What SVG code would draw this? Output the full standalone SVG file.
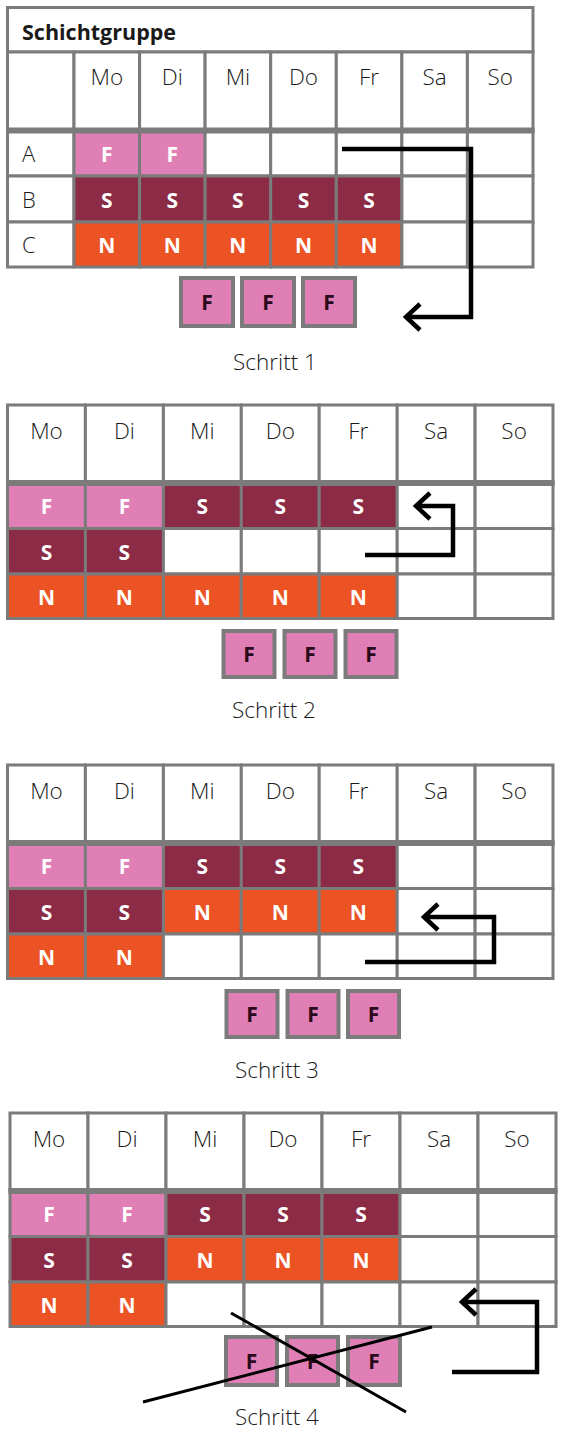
<svg xmlns="http://www.w3.org/2000/svg" width="566" height="1436" viewBox="0 0 566 1436">
<defs>
<style>
.c{stroke:#7b7b7b;stroke-width:3}
.w{fill:#fff}.f{fill:#e07fb5}.s{fill:#8c2b45}.n{fill:#eb5224}
.sep{stroke:#7b7b7b;stroke-width:6}
text{font-family:"Open Sans","Liberation Sans",sans-serif}
.d{font-size:22.5px;font-weight:300;fill:#1a1a1a;text-anchor:middle}
.lb{font-size:22px;font-weight:300;fill:#1a1a1a}
.t{font-size:21.5px;font-weight:700;fill:#1a1a1a}
.l{font-size:21px;font-weight:700;fill:#fff;text-anchor:middle}
.bx{fill:#e07fb5;stroke:#7b7b7b;stroke-width:4}
.bl{font-size:21px;font-weight:700;fill:#2a0a1c;text-anchor:middle}
.cap{font-size:22.5px;font-weight:300;fill:#1a1a1a;text-anchor:middle}
.a{fill:none;stroke:#000;stroke-width:4.5;marker-end:url(#ah)}
.x{stroke:#000;stroke-width:3}
</style>
<marker id="ah" markerUnits="userSpaceOnUse" markerWidth="40" markerHeight="40" refX="0" refY="0" orient="auto" overflow="visible">
<path d="M-14,-13 L0,0 L-14,13" fill="none" stroke="#000" stroke-width="4.5"/>
</marker>
</defs>
<rect width="566" height="1436" fill="#fff"/>

<!-- Panel 1 -->
<g id="schritt1">
<rect class="c w" x="7.5" y="7.5" width="525.5" height="44.5"/>
<text class="t" x="22" y="40">Schichtgruppe</text>
<g id="p1-header">
<rect class="c w" x="7.5" y="52" width="66.5" height="78.5"/>
<rect class="c w" x="74" y="52" width="65.6" height="78.5"/>
<rect class="c w" x="139.6" y="52" width="65.5" height="78.5"/>
<rect class="c w" x="205.1" y="52" width="65.6" height="78.5"/>
<rect class="c w" x="270.7" y="52" width="65.6" height="78.5"/>
<rect class="c w" x="336.3" y="52" width="65.6" height="78.5"/>
<rect class="c w" x="401.9" y="52" width="65.5" height="78.5"/>
<rect class="c w" x="467.4" y="52" width="65.6" height="78.5"/>
<text class="d" x="106.8" y="85">Mo</text>
<text class="d" x="172.3" y="85">Di</text>
<text class="d" x="237.9" y="85">Mi</text>
<text class="d" x="303.5" y="85">Do</text>
<text class="d" x="369.1" y="85">Fr</text>
<text class="d" x="434.6" y="85">Sa</text>
<text class="d" x="500.2" y="85">So</text>
</g>
<g id="p1-rowA">
<rect class="c w" x="7.5" y="130.5" width="66.5" height="45.5"/>
<rect class="c f" x="74" y="130.5" width="65.6" height="45.5"/>
<rect class="c f" x="139.6" y="130.5" width="65.5" height="45.5"/>
<rect class="c w" x="205.1" y="130.5" width="65.6" height="45.5"/>
<rect class="c w" x="270.7" y="130.5" width="65.6" height="45.5"/>
<rect class="c w" x="336.3" y="130.5" width="65.6" height="45.5"/>
<rect class="c w" x="401.9" y="130.5" width="65.5" height="45.5"/>
<rect class="c w" x="467.4" y="130.5" width="65.6" height="45.5"/>
<text class="lb" x="22" y="162">A</text>
<text class="l" x="106.8" y="162">F</text>
<text class="l" x="172.3" y="162">F</text>
</g>
<g id="p1-rowB">
<rect class="c w" x="7.5" y="176" width="66.5" height="46"/>
<rect class="c s" x="74" y="176" width="65.6" height="46"/>
<rect class="c s" x="139.6" y="176" width="65.5" height="46"/>
<rect class="c s" x="205.1" y="176" width="65.6" height="46"/>
<rect class="c s" x="270.7" y="176" width="65.6" height="46"/>
<rect class="c s" x="336.3" y="176" width="65.6" height="46"/>
<rect class="c w" x="401.9" y="176" width="65.5" height="46"/>
<rect class="c w" x="467.4" y="176" width="65.6" height="46"/>
<text class="lb" x="22" y="207.5">B</text>
<text class="l" x="106.8" y="207.5">S</text>
<text class="l" x="172.3" y="207.5">S</text>
<text class="l" x="237.9" y="207.5">S</text>
<text class="l" x="303.5" y="207.5">S</text>
<text class="l" x="369.1" y="207.5">S</text>
</g>
<g id="p1-rowC">
<rect class="c w" x="7.5" y="222" width="66.5" height="45"/>
<rect class="c n" x="74" y="222" width="65.6" height="45"/>
<rect class="c n" x="139.6" y="222" width="65.5" height="45"/>
<rect class="c n" x="205.1" y="222" width="65.6" height="45"/>
<rect class="c n" x="270.7" y="222" width="65.6" height="45"/>
<rect class="c n" x="336.3" y="222" width="65.6" height="45"/>
<rect class="c w" x="401.9" y="222" width="65.5" height="45"/>
<rect class="c w" x="467.4" y="222" width="65.6" height="45"/>
<text class="lb" x="22" y="253">C</text>
<text class="l" x="106.8" y="253">N</text>
<text class="l" x="172.3" y="253">N</text>
<text class="l" x="237.9" y="253">N</text>
<text class="l" x="303.5" y="253">N</text>
<text class="l" x="369.1" y="253">N</text>
</g>
<line class="sep" x1="6" y1="130.5" x2="534.5" y2="130.5"/>
<g id="p1-boxes">
<rect class="bx" x="181" y="278" width="52" height="48"/>
<rect class="bx" x="242" y="278" width="52" height="48"/>
<rect class="bx" x="303" y="278" width="52" height="48"/>
<text class="bl" x="207" y="310">F</text>
<text class="bl" x="268" y="310">F</text>
<text class="bl" x="329" y="310">F</text>
</g>
<text class="cap" x="275" y="370">Schritt 1</text>
</g>

<!-- Panel 2 -->
<g id="schritt2">
<g id="p2-header">
<rect class="c w" x="7.5" y="405" width="77.9" height="78"/>
<rect class="c w" x="85.4" y="405" width="78" height="78"/>
<rect class="c w" x="163.4" y="405" width="77.9" height="78"/>
<rect class="c w" x="241.3" y="405" width="77.9" height="78"/>
<rect class="c w" x="319.2" y="405" width="78" height="78"/>
<rect class="c w" x="397.2" y="405" width="77.9" height="78"/>
<rect class="c w" x="475.1" y="405" width="77.9" height="78"/>
<text class="d" x="46.5" y="439">Mo</text>
<text class="d" x="124.4" y="439">Di</text>
<text class="d" x="202.3" y="439">Mi</text>
<text class="d" x="280.3" y="439">Do</text>
<text class="d" x="358.2" y="439">Fr</text>
<text class="d" x="436.1" y="439">Sa</text>
<text class="d" x="514.1" y="439">So</text>
</g>
<g id="p2-row1">
<rect class="c f" x="7.5" y="483" width="77.9" height="45.5"/>
<rect class="c f" x="85.4" y="483" width="78" height="45.5"/>
<rect class="c s" x="163.4" y="483" width="77.9" height="45.5"/>
<rect class="c s" x="241.3" y="483" width="77.9" height="45.5"/>
<rect class="c s" x="319.2" y="483" width="78" height="45.5"/>
<rect class="c w" x="397.2" y="483" width="77.9" height="45.5"/>
<rect class="c w" x="475.1" y="483" width="77.9" height="45.5"/>
<text class="l" x="46.5" y="514">F</text>
<text class="l" x="124.4" y="514">F</text>
<text class="l" x="202.3" y="514">S</text>
<text class="l" x="280.3" y="514">S</text>
<text class="l" x="358.2" y="514">S</text>
</g>
<g id="p2-row2">
<rect class="c s" x="7.5" y="528.5" width="77.9" height="45.5"/>
<rect class="c s" x="85.4" y="528.5" width="78" height="45.5"/>
<rect class="c w" x="163.4" y="528.5" width="77.9" height="45.5"/>
<rect class="c w" x="241.3" y="528.5" width="77.9" height="45.5"/>
<rect class="c w" x="319.2" y="528.5" width="78" height="45.5"/>
<rect class="c w" x="397.2" y="528.5" width="77.9" height="45.5"/>
<rect class="c w" x="475.1" y="528.5" width="77.9" height="45.5"/>
<text class="l" x="46.5" y="559.5">S</text>
<text class="l" x="124.4" y="559.5">S</text>
</g>
<g id="p2-row3">
<rect class="c n" x="7.5" y="574" width="77.9" height="44.5"/>
<rect class="c n" x="85.4" y="574" width="78" height="44.5"/>
<rect class="c n" x="163.4" y="574" width="77.9" height="44.5"/>
<rect class="c n" x="241.3" y="574" width="77.9" height="44.5"/>
<rect class="c n" x="319.2" y="574" width="78" height="44.5"/>
<rect class="c w" x="397.2" y="574" width="77.9" height="44.5"/>
<rect class="c w" x="475.1" y="574" width="77.9" height="44.5"/>
<text class="l" x="46.5" y="604.5">N</text>
<text class="l" x="124.4" y="604.5">N</text>
<text class="l" x="202.3" y="604.5">N</text>
<text class="l" x="280.3" y="604.5">N</text>
<text class="l" x="358.2" y="604.5">N</text>
</g>
<line class="sep" x1="6" y1="483" x2="554.5" y2="483"/>
<g id="p2-boxes">
<rect class="bx" x="223.5" y="631" width="51" height="46"/>
<rect class="bx" x="284.5" y="631" width="51" height="46"/>
<rect class="bx" x="345.5" y="631" width="51" height="46"/>
<text class="bl" x="249" y="662">F</text>
<text class="bl" x="310" y="662">F</text>
<text class="bl" x="371" y="662">F</text>
</g>
<text class="cap" x="274" y="718">Schritt 2</text>
</g>

<!-- Panel 3 -->
<g id="schritt3">
<g id="p3-header">
<rect class="c w" x="7.5" y="765" width="77.9" height="78"/>
<rect class="c w" x="85.4" y="765" width="78" height="78"/>
<rect class="c w" x="163.4" y="765" width="77.9" height="78"/>
<rect class="c w" x="241.3" y="765" width="77.9" height="78"/>
<rect class="c w" x="319.2" y="765" width="78" height="78"/>
<rect class="c w" x="397.2" y="765" width="77.9" height="78"/>
<rect class="c w" x="475.1" y="765" width="77.9" height="78"/>
<text class="d" x="46.5" y="799">Mo</text>
<text class="d" x="124.4" y="799">Di</text>
<text class="d" x="202.3" y="799">Mi</text>
<text class="d" x="280.3" y="799">Do</text>
<text class="d" x="358.2" y="799">Fr</text>
<text class="d" x="436.1" y="799">Sa</text>
<text class="d" x="514.1" y="799">So</text>
</g>
<g id="p3-row1">
<rect class="c f" x="7.5" y="843" width="77.9" height="45.5"/>
<rect class="c f" x="85.4" y="843" width="78" height="45.5"/>
<rect class="c s" x="163.4" y="843" width="77.9" height="45.5"/>
<rect class="c s" x="241.3" y="843" width="77.9" height="45.5"/>
<rect class="c s" x="319.2" y="843" width="78" height="45.5"/>
<rect class="c w" x="397.2" y="843" width="77.9" height="45.5"/>
<rect class="c w" x="475.1" y="843" width="77.9" height="45.5"/>
<text class="l" x="46.5" y="874">F</text>
<text class="l" x="124.4" y="874">F</text>
<text class="l" x="202.3" y="874">S</text>
<text class="l" x="280.3" y="874">S</text>
<text class="l" x="358.2" y="874">S</text>
</g>
<g id="p3-row2">
<rect class="c s" x="7.5" y="888.5" width="77.9" height="45.5"/>
<rect class="c s" x="85.4" y="888.5" width="78" height="45.5"/>
<rect class="c n" x="163.4" y="888.5" width="77.9" height="45.5"/>
<rect class="c n" x="241.3" y="888.5" width="77.9" height="45.5"/>
<rect class="c n" x="319.2" y="888.5" width="78" height="45.5"/>
<rect class="c w" x="397.2" y="888.5" width="77.9" height="45.5"/>
<rect class="c w" x="475.1" y="888.5" width="77.9" height="45.5"/>
<text class="l" x="46.5" y="919.5">S</text>
<text class="l" x="124.4" y="919.5">S</text>
<text class="l" x="202.3" y="919.5">N</text>
<text class="l" x="280.3" y="919.5">N</text>
<text class="l" x="358.2" y="919.5">N</text>
</g>
<g id="p3-row3">
<rect class="c n" x="7.5" y="934" width="77.9" height="44.5"/>
<rect class="c n" x="85.4" y="934" width="78" height="44.5"/>
<rect class="c w" x="163.4" y="934" width="77.9" height="44.5"/>
<rect class="c w" x="241.3" y="934" width="77.9" height="44.5"/>
<rect class="c w" x="319.2" y="934" width="78" height="44.5"/>
<rect class="c w" x="397.2" y="934" width="77.9" height="44.5"/>
<rect class="c w" x="475.1" y="934" width="77.9" height="44.5"/>
<text class="l" x="46.5" y="964.5">N</text>
<text class="l" x="124.4" y="964.5">N</text>
</g>
<line class="sep" x1="6" y1="843" x2="554.5" y2="843"/>
<g id="p3-boxes">
<rect class="bx" x="226.5" y="991" width="51" height="46"/>
<rect class="bx" x="287.5" y="991" width="51" height="46"/>
<rect class="bx" x="348" y="991" width="51" height="46"/>
<text class="bl" x="252" y="1022">F</text>
<text class="bl" x="313" y="1022">F</text>
<text class="bl" x="373.5" y="1022">F</text>
</g>
<text class="cap" x="277" y="1078">Schritt 3</text>
</g>

<!-- Panel 4 -->
<g id="schritt4">
<g id="p4-header">
<rect class="c w" x="10" y="1113" width="78" height="78"/>
<rect class="c w" x="88" y="1113" width="78" height="78"/>
<rect class="c w" x="166" y="1113" width="78" height="78"/>
<rect class="c w" x="244" y="1113" width="78" height="78"/>
<rect class="c w" x="322" y="1113" width="78" height="78"/>
<rect class="c w" x="400" y="1113" width="78" height="78"/>
<rect class="c w" x="478" y="1113" width="78" height="78"/>
<text class="d" x="49" y="1147">Mo</text>
<text class="d" x="127" y="1147">Di</text>
<text class="d" x="205" y="1147">Mi</text>
<text class="d" x="283" y="1147">Do</text>
<text class="d" x="361" y="1147">Fr</text>
<text class="d" x="439" y="1147">Sa</text>
<text class="d" x="517" y="1147">So</text>
</g>
<g id="p4-row1">
<rect class="c f" x="10" y="1191" width="78" height="45.5"/>
<rect class="c f" x="88" y="1191" width="78" height="45.5"/>
<rect class="c s" x="166" y="1191" width="78" height="45.5"/>
<rect class="c s" x="244" y="1191" width="78" height="45.5"/>
<rect class="c s" x="322" y="1191" width="78" height="45.5"/>
<rect class="c w" x="400" y="1191" width="78" height="45.5"/>
<rect class="c w" x="478" y="1191" width="78" height="45.5"/>
<text class="l" x="49" y="1222">F</text>
<text class="l" x="127" y="1222">F</text>
<text class="l" x="205" y="1222">S</text>
<text class="l" x="283" y="1222">S</text>
<text class="l" x="361" y="1222">S</text>
</g>
<g id="p4-row2">
<rect class="c s" x="10" y="1236.5" width="78" height="45.5"/>
<rect class="c s" x="88" y="1236.5" width="78" height="45.5"/>
<rect class="c n" x="166" y="1236.5" width="78" height="45.5"/>
<rect class="c n" x="244" y="1236.5" width="78" height="45.5"/>
<rect class="c n" x="322" y="1236.5" width="78" height="45.5"/>
<rect class="c w" x="400" y="1236.5" width="78" height="45.5"/>
<rect class="c w" x="478" y="1236.5" width="78" height="45.5"/>
<text class="l" x="49" y="1267.5">S</text>
<text class="l" x="127" y="1267.5">S</text>
<text class="l" x="205" y="1267.5">N</text>
<text class="l" x="283" y="1267.5">N</text>
<text class="l" x="361" y="1267.5">N</text>
</g>
<g id="p4-row3">
<rect class="c n" x="10" y="1282" width="78" height="44.5"/>
<rect class="c n" x="88" y="1282" width="78" height="44.5"/>
<rect class="c w" x="166" y="1282" width="78" height="44.5"/>
<rect class="c w" x="244" y="1282" width="78" height="44.5"/>
<rect class="c w" x="322" y="1282" width="78" height="44.5"/>
<rect class="c w" x="400" y="1282" width="78" height="44.5"/>
<rect class="c w" x="478" y="1282" width="78" height="44.5"/>
<text class="l" x="49" y="1312.5">N</text>
<text class="l" x="127" y="1312.5">N</text>
</g>
<line class="sep" x1="8.5" y1="1191" x2="557.5" y2="1191"/>
<g id="p4-boxes">
<rect class="bx" x="226" y="1337" width="51" height="48"/>
<rect class="bx" x="287" y="1337" width="51" height="48"/>
<rect class="bx" x="348" y="1337" width="52" height="48"/>
<text class="bl" x="251.5" y="1369">F</text>
<text class="bl" x="312.5" y="1369">F</text>
<text class="bl" x="374" y="1369">F</text>
</g>
<text class="cap" x="277" y="1425">Schritt 4</text>
</g>

<g id="connectors">
<path class="a" d="M342,149 H471 V317 H406"/>
<path class="a" d="M365,555 H453 V506 H416"/>
<path class="a" d="M365,962 H494 V917 H424"/>
<path class="a" d="M452,1372 H537 V1302 H462"/>
<line class="x" x1="231" y1="1313" x2="406" y2="1412"/>
<line class="x" x1="143" y1="1402" x2="432" y2="1327"/>
</g>
</svg>
